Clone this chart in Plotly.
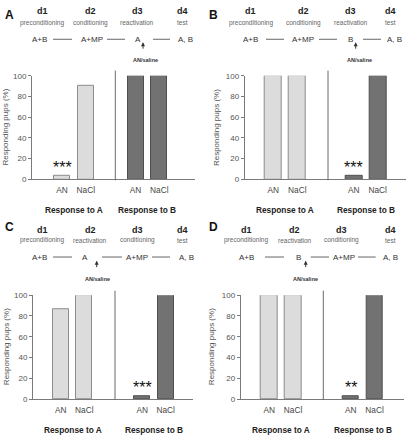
import plotly.graph_objects as go

W, H = 407, 440
FONT = "Liberation Sans, Arial, sans-serif"

# ---------------- data ----------------
treatments = ["AN", "NaCl"]
groups = ["Response to A", "Response to B"]
panel_ids = ["A", "B", "C", "D"]
resp_A = {"A": [3, 90], "B": [100, 100], "C": [87, 100], "D": [100, 100]}
resp_B = {"A": [100, 100], "B": [3, 100], "C": [3, 100], "D": [3, 100]}
# significance marks: (panel, group index, treatment index, text)
stars = [("A", 0, 0, "***"), ("B", 1, 0, "***"), ("C", 1, 0, "***"), ("D", 1, 0, "**")]
day_labels = ["d1", "d2", "d3", "d4"]
phases = {
    "A": ["preconditioning", "conditioning", "reactivation", "test"],
    "B": ["preconditioning", "conditioning", "reactivation", "test"],
    "C": ["preconditioning", "reactivation", "conditioning", "test"],
    "D": ["preconditioning", "reactivation", "conditioning", "test"],
}
schema_items = {
    "A": ["A+B", "A+MP", "A", "A, B"],
    "B": ["A+B", "A+MP", "B", "A, B"],
    "C": ["A+B", "A", "A+MP", "A, B"],
    "D": ["A+B", "B", "A+MP", "A, B"],
}
injection_label = "AN/saline"
y_title = "Responding pups (%)"
y_ticks = [0, 20, 40, 60, 80, 100]

# ---------------- layout (pixels) ----------------
L = {
    "A": dict(ax=32, aend=195, y0=179, y100=73.3, first=30, pair=23.8, group=73.5, bw=16,
              div=83.3, divtop=68, ytitle=6, letter=(3, 11),
              days=[42, 90, 137, 182], dy=7, py=19, items=[39, 92, 138, 185], ry=36,
              lines=[(53, 72), (107, 125), (153, 170)], arrow=143, arr=(39, 47), ans=(145, 57),
              resp_y=210.7),
    "B": dict(ax=244.7, aend=406, y0=179, y100=73.3, first=28.6, pair=24, group=80.4, bw=17,
              div=83.3, divtop=68, ytitle=216.5, letter=(207, 11),
              days=[250.7, 303, 350.7, 390.7], dy=7, py=19, items=[250.7, 303, 350.7, 394], ry=36,
              lines=[(266, 284), (319, 337), (363, 381)], arrow=355.7, arr=(39, 47), ans=(359, 57),
              resp_y=210.7),
    "C": dict(ax=33, aend=193, y0=403.3, y100=297.3, first=27.8, pair=23.5, group=81.4, bw=16,
              div=82, divtop=292.7, ytitle=6, letter=(3, 228),
              days=[42, 90, 137, 182], dy=230.7, py=241, items=[39, 85, 137, 186], ry=258.3,
              lines=[(53, 72), (102, 122), (152, 170)], arrow=96.7, arr=(262, 270), ans=(97, 280.7),
              resp_y=435),
    "D": dict(ax=240.7, aend=404, y0=403.3, y100=297.3, first=28.6, pair=23.7, group=81.5, bw=16.5,
              div=82.6, divtop=292.7, ytitle=211, letter=(207, 228),
              days=[246, 294.7, 341, 390.7], dy=230.7, py=241, items=[246.7, 298.3, 344, 390.7], ry=258.3,
              lines=[(265, 284), (310.7, 329), (358, 375.7)], arrow=305.7, arr=(262, 270), ans=(305.7, 280.7),
              resp_y=435),
}

def px(x):
    return x / W

def py(y):
    return 1 - y / H

LIGHT, LIGHT_LINE = "#dcdcdc", "#8c8c8c"
DARK, DARK_LINE = "#727272", "#4f4f4f"
TXT = "#444444"
AXC = "#7a7a7a"

fig = go.Figure()
annotations = []
shapes = []
layout_axes = {}

def note(x, y, text, size, color, **kw):
    d = dict(x=x, y=y, xref="paper", yref="paper", text=text, showarrow=False,
             xanchor="center", yanchor="middle", font=dict(family=FONT, size=size, color=color))
    d.update(kw)
    annotations.append(d)

for i, pid in enumerate(panel_ids):
    c = L[pid]
    xa = "x" if i == 0 else f"x{i+1}"
    ya = "y" if i == 0 else f"y{i+1}"
    xname = "xaxis" if i == 0 else f"xaxis{i+1}"
    yname = "yaxis" if i == 0 else f"yaxis{i+1}"

    def pos(g, t):
        return c["first"] + g * c["group"] + t * c["pair"]

    xs_A = [pos(0, t) for t in range(2)]
    xs_B = [pos(1, t) for t in range(2)]
    fig.add_trace(go.Bar(x=xs_A, y=resp_A[pid], width=c["bw"], marker_color=LIGHT,
                         marker_line=dict(color=LIGHT_LINE, width=1), xaxis=xa, yaxis=ya,
                         showlegend=False))
    fig.add_trace(go.Bar(x=xs_B, y=resp_B[pid], width=c["bw"], marker_color=DARK,
                         marker_line=dict(color=DARK_LINE, width=1), xaxis=xa, yaxis=ya,
                         showlegend=False))

    layout_axes[xname] = dict(domain=[px(c["ax"]), px(c["aend"])], range=[0, c["aend"] - c["ax"]],
                              anchor=ya, showline=True, linecolor=AXC, linewidth=1,
                              showgrid=False, zeroline=False, tickmode="array",
                              tickvals=xs_A + xs_B, ticktext=treatments * 2,
                              ticks="outside", ticklen=3, tickcolor="rgba(0,0,0,0)",
                              tickfont=dict(family=FONT, size=8.3, color=TXT), fixedrange=True)
    layout_axes[yname] = dict(domain=[py(c["y0"]), py(c["y100"])], range=[0, 100],
                              anchor=xa, showline=True, linecolor=AXC, linewidth=1,
                              showgrid=False, zeroline=False, tickmode="array", tickvals=y_ticks,
                              ticks="outside", ticklen=3, tickcolor=AXC,
                              tickfont=dict(family=FONT, size=8, color="#555555"), fixedrange=True)

    # divider
    shapes.append(dict(type="line", xref=xa, yref="paper", x0=c["div"], x1=c["div"],
                       y0=py(c["y0"] + 1), y1=py(c["divtop"]), line=dict(color="#6a6a6a", width=1)))

    # group labels
    for g, gl in enumerate(groups):
        annotations.append(dict(x=(pos(g, 0) + pos(g, 1)) / 2, xref=xa, y=py(c["resp_y"]), yref="paper",
                                text=f"<b>{gl}</b>", showarrow=False, xanchor="center", yanchor="middle",
                                font=dict(family=FONT, size=8.3, color="#222222")))
    # y title
    note(px(c["ytitle"]), py((c["y0"] + c["y100"]) / 2), y_title, 8, "#555555", textangle=-90)
    # panel letter
    note(px(c["letter"][0]), py(c["letter"][1]), f"<b>{pid}</b>", 12, "#111111", xanchor="left")
    # schema
    for k in range(4):
        note(px(c["days"][k]), py(c["dy"]), f"<b>{day_labels[k]}</b>", 9, "#222222")
        note(px(c["days"][k]), py(c["py"]), phases[pid][k], 6.5, "#666666")
        note(px(c["items"][k]), py(c["ry"]), schema_items[pid][k], 8, "#333333")
    for (a, b) in c["lines"]:
        shapes.append(dict(type="line", xref="paper", yref="paper", x0=px(a), x1=px(b),
                           y0=py(c["ry"]), y1=py(c["ry"]), line=dict(color="#666666", width=1)))
    # arrow
    annotations.append(dict(x=px(c["arrow"]), y=py(c["arr"][0]), xref="paper", yref="paper",
                            ax=0, ay=c["arr"][1] - c["arr"][0], text="", showarrow=True,
                            arrowhead=2, arrowsize=0.8, arrowwidth=1, arrowcolor="#333333"))
    note(px(c["ans"][0]), py(c["ans"][1]), f"<b>{injection_label}</b>", 5.5, "#333333")

# stars
for (pid, g, t, s) in stars:
    i = panel_ids.index(pid)
    c = L[pid]
    xa = "x" if i == 0 else f"x{i+1}"
    ya = "y" if i == 0 else f"y{i+1}"
    val = (resp_A if g == 0 else resp_B)[pid][t]
    annotations.append(dict(x=c["first"] + g * c["group"] + t * c["pair"], y=val, xref=xa, yref=ya,
                            text=s, showarrow=False, xanchor="center", yanchor="bottom", yshift=-2,
                            font=dict(family=FONT, size=16, color="#111111")))

fig.update_layout(width=W, height=H, margin=dict(l=0, r=0, t=0, b=0),
                  paper_bgcolor="white", plot_bgcolor="white", bargap=0,
                  annotations=annotations, shapes=shapes, **layout_axes)
fig.write_html("out.html")
